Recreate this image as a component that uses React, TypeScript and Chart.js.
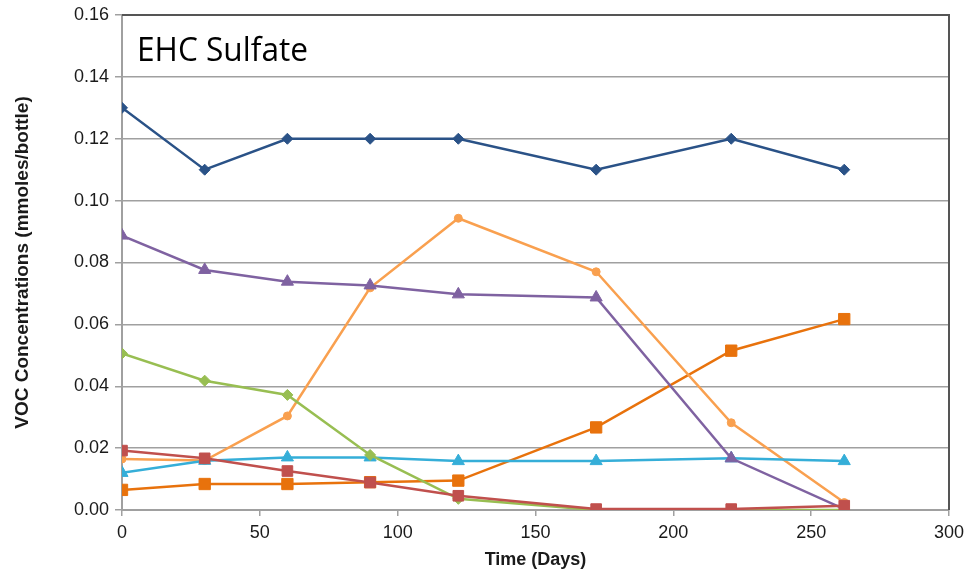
import React, { useEffect, useRef } from "react";
import { Chart, registerables } from "chart.js";

Chart.register(...registerables);

const days = [0, 30, 60, 90, 122, 172, 221, 262];
const seriesBlue = [0.13, 0.11, 0.12, 0.12, 0.12, 0.11, 0.12, 0.11];
const seriesRed = [0.0192, 0.0167, 0.0126, 0.0089, 0.0046, 0.0003, 0.0003, 0.0014];
const seriesGreen = [0.0506, 0.0418, 0.0372, 0.0178, 0.0036, 0.0, 0.0, 0.0];
const seriesPurple = [0.0887, 0.0776, 0.0738, 0.0726, 0.0697, 0.0687, 0.0167, 0.0003];
const seriesCyan = [0.012, 0.0159, 0.017, 0.017, 0.0158, 0.0158, 0.0167, 0.0158];
const seriesLightOrange = [0.0165, 0.016, 0.0304, 0.0718, 0.0943, 0.077, 0.0282, 0.0024];
const seriesDarkOrange = [0.0065, 0.0084, 0.0084, 0.009, 0.0095, 0.0267, 0.0515, 0.0617];

const xTicks = [0, 50, 100, 150, 200, 250, 300];
const yTicks = [0, 0.02, 0.04, 0.06, 0.08, 0.1, 0.12, 0.14, 0.16];

const chartTitle = "EHC Sulfate";
const xTitle = "Time (Days)";
const yTitle = "VOC Concentrations (mmoles/bottle)";

const pts = (vals: number[]) => vals.map((v, i) => ({ x: days[i], y: v }));

const frame = {
  id: "frame",
  afterDatasetsDraw(chart: any) {
    const { ctx, chartArea } = chart;
    ctx.save();
    ctx.strokeStyle = "#555555";
    ctx.lineWidth = 2;
    ctx.beginPath();
    ctx.moveTo(chartArea.left, chartArea.top);
    ctx.lineTo(chartArea.right, chartArea.top);
    ctx.lineTo(chartArea.right, chartArea.bottom);
    ctx.stroke();
    // panel title
    ctx.font = "32px 'Open Sans'";
    ctx.fillStyle = "#000000";
    ctx.textBaseline = "alphabetic";
    const w = ctx.measureText(chartTitle).width;
    const target = 171;
    ctx.translate(137, 61);
    ctx.scale(target / w, 1);
    ctx.fillText(chartTitle, 0, 0);
    ctx.restore();
  },
};

export default function App() {
  const ref = useRef<HTMLCanvasElement | null>(null);
  useEffect(() => {
    document.body.style.margin = "0";
    const ds = (label: string, data: number[], color: string, style: string, r: number, lw = 2.5) => ({
      label,
      data: pts(data),
      borderColor: color,
      backgroundColor: color,
      pointBackgroundColor: color,
      pointBorderColor: color,
      pointStyle: style,
      pointRadius: r,
      pointBorderWidth: 1,
      borderWidth: lw,
      tension: 0,
    });
    const chart = new Chart(ref.current as HTMLCanvasElement, {
      type: "line",
      data: {
        datasets: [
          ds("Series 1", seriesBlue, "#2A5287", "rectRot", 5.5),
          ds("Series 2", seriesRed, "#C0504D", "rect", 7.5),
          ds("Series 3", seriesGreen, "#98BE52", "rectRot", 5.5),
          ds("Series 4", seriesPurple, "#7F62A1", "triangle", 7),
          ds("Series 5", seriesCyan, "#35AED8", "triangle", 7),
          ds("Series 6", seriesLightOrange, "#F9A04F", "circle", 4),
          ds("Series 7", seriesDarkOrange, "#E8720C", "rect", 8),
        ] as any,
      },
      options: {
        animation: false,
        responsive: false,
        maintainAspectRatio: false,
        layout: { padding: { left: 0, right: 22, top: 15, bottom: 0 } },
        plugins: {
          legend: { display: false },
          tooltip: { enabled: false },
        },
        scales: {
          x: {
            type: "linear",
            min: 0,
            max: 300,
            afterBuildTicks: (s: any) => {
              s.ticks = xTicks.map((v) => ({ value: v }));
            },
            afterFit: (s: any) => {
              s.height = 61;
              s.paddingLeft = 0;
              s.paddingRight = 0;
            },
            grid: { display: true, drawOnChartArea: false, drawTicks: true, tickLength: 6, color: "#A0A0A0", lineWidth: 1.5 },
            border: { display: true, color: "#A0A0A0", width: 2 },
            ticks: {
              color: "#1a1a1a",
              font: { family: "'Liberation Sans', Arial", size: 18 },
              padding: 6,
              maxRotation: 0,
              callback: (v: any) => String(v),
            },
            title: {
              display: true,
              text: xTitle,
              color: "#1a1a1a",
              font: { family: "'Liberation Sans', Arial", size: 18, weight: "bold" },
              padding: { top: 2, bottom: 0 },
            },
          },
          y: {
            type: "linear",
            min: 0,
            max: 0.16,
            afterBuildTicks: (s: any) => {
              s.ticks = yTicks.map((v) => ({ value: v }));
            },
            afterFit: (s: any) => {
              s.width = 122;
              s.paddingTop = 0;
              s.paddingBottom = 0;
            },
            grid: { display: true, drawTicks: true, tickLength: 7, color: "#A0A0A0", lineWidth: 1.5 },
            border: { display: true, color: "#A0A0A0", width: 2 },
            ticks: {
              color: "#1a1a1a",
              font: { family: "'Liberation Sans', Arial", size: 18 },
              padding: 6,
              callback: (v: any) => Number(v).toFixed(2),
            },
            title: {
              display: true,
              text: yTitle,
              color: "#1a1a1a",
              font: { family: "'Liberation Sans', Arial", size: 19, weight: "bold" },
              padding: { top: 11, bottom: 8 },
            },
          },
        },
      },
      plugins: [frame],
    });
    return () => chart.destroy();
  }, []);
  return (
    <div style={{ position: "absolute", left: 0, top: 0, width: 971, height: 571, background: "#ffffff" }}>
      <canvas ref={ref} width={971} height={571} style={{ width: 971, height: 571, display: "block" }} />
    </div>
  );
}
